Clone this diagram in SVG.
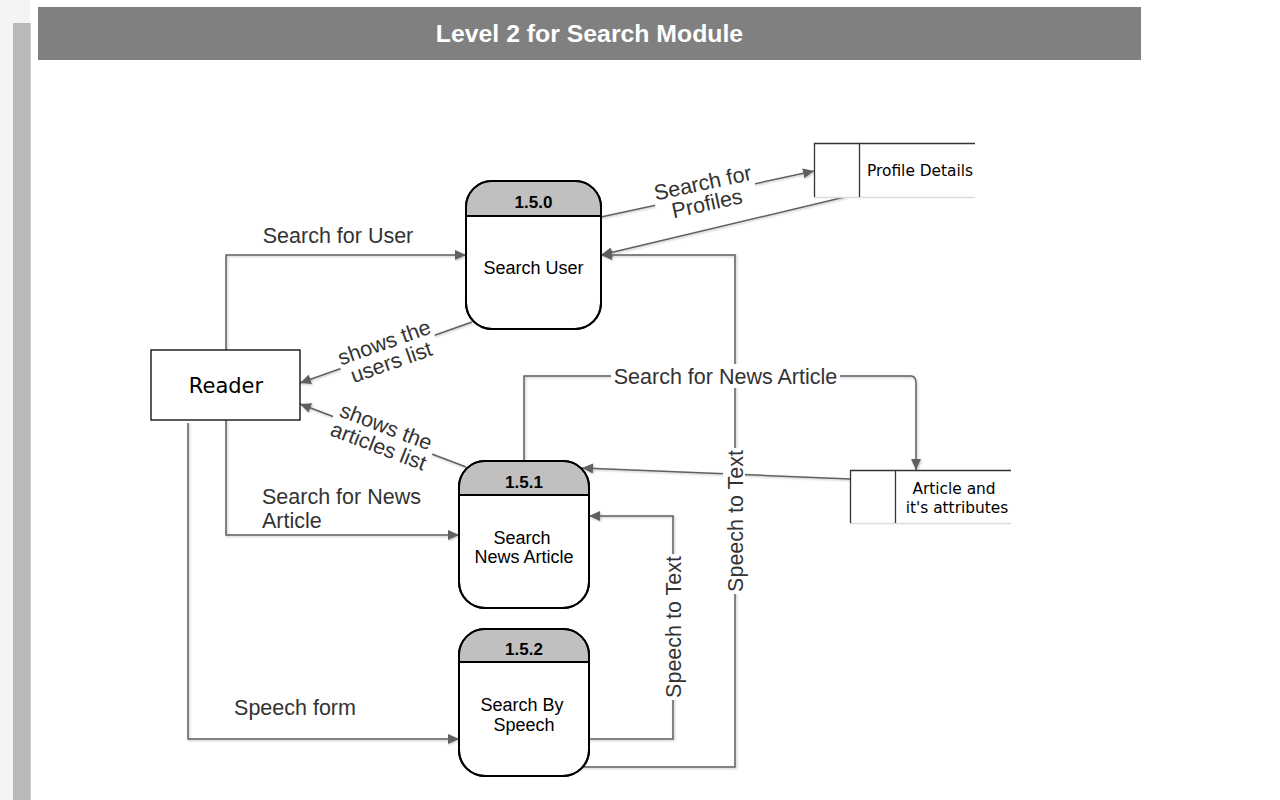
<svg xmlns="http://www.w3.org/2000/svg" width="1280" height="800" viewBox="0 0 1280 800">
<style>
.lbl{font-family:"Liberation Sans",Arial,sans-serif;font-size:21.5px;fill:#333333}
.ntxt{font-family:"Liberation Sans",Arial,sans-serif;font-size:18px;fill:#000}
.nid{font-family:"Liberation Sans",Arial,sans-serif;font-size:17px;font-weight:bold;fill:#000}
.stxt{font-family:"DejaVu Sans",Verdana,sans-serif;font-size:15.4px;fill:#000}
.conn{fill:none;stroke:#606060;stroke-width:1.5}
.proc{fill:#fff;stroke:#000;stroke-width:2}
.hdr{fill:#c0c0c0}
.sep{stroke:#000;stroke-width:2}
.store-d{stroke:#333;stroke-width:1.3}
.store-l{stroke:#dcdcdc;stroke-width:1.3}
.bg{fill:#fff}
</style>
<defs>
<marker id="arr" markerUnits="userSpaceOnUse" markerWidth="12" markerHeight="10" refX="11" refY="5" orient="auto">
<path d="M0,0 L11,5 L0,10 Z" fill="#606060"/>
</marker>
<filter id="sh" x="-5%" y="-5%" width="110%" height="110%">
<feDropShadow dx="1" dy="1" stdDeviation="0.8" flood-color="#000" flood-opacity="0.25"/>
</filter>
</defs>
<rect x="0" y="0" width="1280" height="800" fill="#fff"/>
<rect x="0" y="0" width="30" height="800" fill="#f4f4f4"/>
<rect x="13" y="23" width="17" height="777" fill="#b9b9b9"/>
<line x1="30.5" y1="23" x2="30.5" y2="800" stroke="#d0d0d0" stroke-width="1"/>

<g id="title">
<rect x="38" y="7" width="1103" height="53" fill="#808080"/>
<text x="589.5" y="42" text-anchor="middle" font-family="Liberation Sans, Arial, sans-serif" font-size="24.8" font-weight="bold" fill="#fff">Level 2 for Search Module</text>
</g>

<g id="connectors" filter="url(#sh)">
<path class="conn" d="M226,350 V255 H466" marker-end="url(#arr)"/>
<path class="conn" d="M472,322 L300,383" marker-end="url(#arr)"/>
<path class="conn" d="M466,467 L300,404" marker-end="url(#arr)"/>
<path class="conn" d="M226,420 V535 H459" marker-end="url(#arr)"/>
<path class="conn" d="M188,423 V739 H459" marker-end="url(#arr)"/>
<path class="conn" d="M601,217 L814,171" marker-end="url(#arr)"/>
<path class="conn" d="M845,197 L601,255" marker-end="url(#arr)"/>
<path class="conn" d="M524,461 V376 H911 Q916,376 916,384 V470" marker-end="url(#arr)"/>
<path class="conn" d="M850,479 L582,468" marker-end="url(#arr)"/>
<path class="conn" d="M589,739 H673 V516 H589" marker-end="url(#arr)"/>
<path class="conn" d="M581,767 H735 V255 H601" marker-end="url(#arr)"/>
</g>

<g id="labels">
<text class="lbl" x="338" y="243" text-anchor="middle">Search for User</text>
<g transform="translate(388,353) rotate(-19.5)">
<rect class="bg" x="-50" y="-24" width="100" height="46"/>
<text class="lbl" x="0" y="-4" text-anchor="middle">shows the</text>
<text class="lbl" x="0" y="17" text-anchor="middle">users list</text>
</g>
<g transform="translate(382,437) rotate(21)">
<rect class="bg" x="-53" y="-24" width="106" height="46"/>
<text class="lbl" x="0" y="-4" text-anchor="middle">shows the</text>
<text class="lbl" x="0" y="17" text-anchor="middle">articles list</text>
</g>
<text class="lbl" x="262" y="504">Search for News</text>
<text class="lbl" x="262" y="528">Article</text>
<text class="lbl" x="295" y="715" text-anchor="middle">Speech form</text>
<g transform="translate(705,194) rotate(-12.2)">
<rect class="bg" x="-51" y="-24" width="102" height="46"/>
<text class="lbl" x="0" y="-4" text-anchor="middle">Search for</text>
<text class="lbl" x="0" y="17" text-anchor="middle">Profiles</text>
</g>
<rect class="bg" x="611" y="364" width="229" height="24"/>
<text class="lbl" x="725.5" y="384" text-anchor="middle">Search for News Article</text>
<g transform="translate(673,627) rotate(-90)">
<rect class="bg" x="-73" y="-12" width="146" height="22"/>
<text class="lbl" x="0" y="7.5" text-anchor="middle">Speech to Text</text>
</g>
<g transform="translate(735,521) rotate(-90)">
<rect class="bg" x="-73" y="-12" width="146" height="22"/>
<text class="lbl" x="0" y="7.5" text-anchor="middle">Speech to Text</text>
</g>
</g>

<g id="reader">
<rect x="151" y="350" width="149" height="70" fill="#fff" stroke="#000" stroke-width="1.3"/>
<text x="226" y="393" text-anchor="middle" font-family="DejaVu Sans, Verdana, sans-serif" font-size="21" fill="#000">Reader</text>
</g>

<g id="p150">
<rect class="proc" x="466" y="181" width="135" height="148" rx="26"/>
<path class="hdr" d="M467,216 V207 A25,25 0 0 1 492,182 H575 A25,25 0 0 1 600,207 V216 Z"/>
<line class="sep" x1="466" y1="216" x2="601" y2="216"/>
<rect x="466" y="181" width="135" height="148" rx="26" fill="none" stroke="#000" stroke-width="2"/>
<text class="nid" x="533.5" y="208" text-anchor="middle">1.5.0</text>
<text class="ntxt" x="533.5" y="274" text-anchor="middle">Search User</text>
</g>

<g id="p151">
<rect class="proc" x="459" y="461" width="130" height="147" rx="26"/>
<path class="hdr" d="M460,495 V487 A25,25 0 0 1 485,462 H563 A25,25 0 0 1 588,487 V495 Z"/>
<line class="sep" x1="459" y1="495" x2="589" y2="495"/>
<rect x="459" y="461" width="130" height="147" rx="26" fill="none" stroke="#000" stroke-width="2"/>
<text class="nid" x="524" y="488" text-anchor="middle">1.5.1</text>
<text class="ntxt" x="522" y="544" text-anchor="middle">Search</text>
<text class="ntxt" x="524" y="563" text-anchor="middle">News Article</text>
</g>

<g id="p152">
<rect class="proc" x="459" y="629" width="130" height="147" rx="26"/>
<path class="hdr" d="M460,662 V655 A25,25 0 0 1 485,630 H563 A25,25 0 0 1 588,655 V662 Z"/>
<line class="sep" x1="459" y1="662" x2="589" y2="662"/>
<rect x="459" y="629" width="130" height="147" rx="26" fill="none" stroke="#000" stroke-width="2"/>
<text class="nid" x="524" y="655" text-anchor="middle">1.5.2</text>
<text class="ntxt" x="522" y="711" text-anchor="middle">Search By</text>
<text class="ntxt" x="524" y="731" text-anchor="middle">Speech</text>
</g>

<g id="store-profile">
<rect x="814" y="143" width="161" height="54" fill="#fff"/>
<line class="store-d" x1="814" y1="143.5" x2="975" y2="143.5"/>
<line class="store-l" x1="814" y1="197.5" x2="975" y2="197.5"/>
<line class="store-d" x1="814.5" y1="143" x2="814.5" y2="197"/>
<line class="store-d" x1="859.5" y1="143" x2="859.5" y2="197"/>
<text class="stxt" x="867" y="176">Profile Details</text>
</g>

<g id="store-article">
<rect x="850" y="470" width="161" height="53" fill="#fff"/>
<line class="store-d" x1="850" y1="470.5" x2="1011" y2="470.5"/>
<line class="store-l" x1="850" y1="523.5" x2="1011" y2="523.5"/>
<line class="store-d" x1="850.5" y1="470" x2="850.5" y2="523"/>
<line class="store-d" x1="895.5" y1="470" x2="895.5" y2="523"/>
<text class="stxt" x="954" y="494" text-anchor="middle">Article and</text>
<text class="stxt" x="957" y="513" text-anchor="middle">it's attributes</text>
</g>
</svg>
